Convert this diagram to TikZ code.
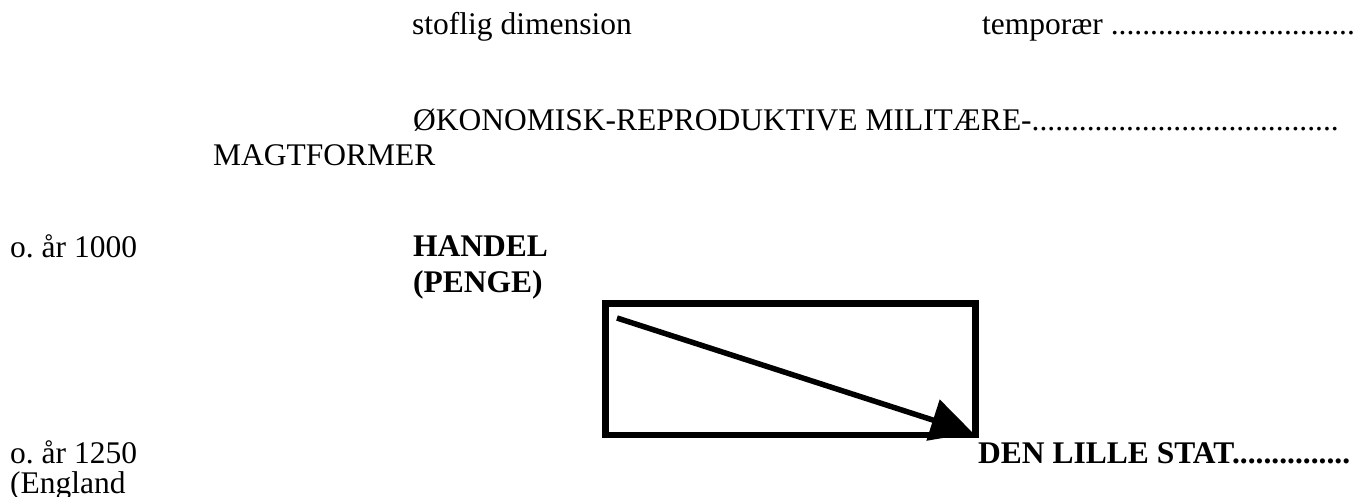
\documentclass[tikz,border=0pt]{standalone}
\usepackage{fontspec}
\setmainfont{Liberation Serif}
\frenchspacing
\usetikzlibrary{arrows.meta}
\tikzset{
  tekst/.style={anchor=base west,inner sep=0pt,font=\fontsize{31.5}{34}\selectfont},
  fed/.style={tekst,font=\fontsize{31.5}{34}\selectfont\bfseries}
}
\begin{document}
\begin{tikzpicture}[x=1pt,y=-1pt]
            \useasboundingbox (0,0) rectangle (1355,497);
            \clip (0,0) rectangle (1355,497);
            % Overskrifter
            \node[tekst] (stof) at (412,35) {stoflig dimension};
            \node[tekst] (temp) at (982,35) {tempor\ae r ...................................};
            \node[tekst] (oeko) at (413,131) {\O KONOMISK-REPRODUKTIVE MILIT\AE RE-.......................................};
            \node[tekst] (magt) at (213,166) {MAGTFORMER};
            % Aar
            \node[tekst] (aar1) at (10,258) {o. \aa r 1000};
            \node[fed] (handel) at (413,257) {HANDEL};
            \node[fed] (penge) at (413,292) {(PENGE)};
            \node[tekst] (aar2) at (10,463) {o. \aa r 1250};
            \node[tekst] (engl) at (10,493) {(England};
            \node[fed] (stat) at (978,463) {DEN LILLE STAT...............};
            % Boks og pil
            \node[draw,line width=6.5pt,minimum width=370pt,minimum height=131.5pt,inner sep=0pt] (boks) at (790.5,369.25) {};
            \coordinate (fra) at (617,318);
            \coordinate (til) at (973,433);
            \draw[line width=5.5pt,-{Triangle[length=42pt,width=42pt]}] (fra) -- (til);
        \end{tikzpicture}
\end{document}
